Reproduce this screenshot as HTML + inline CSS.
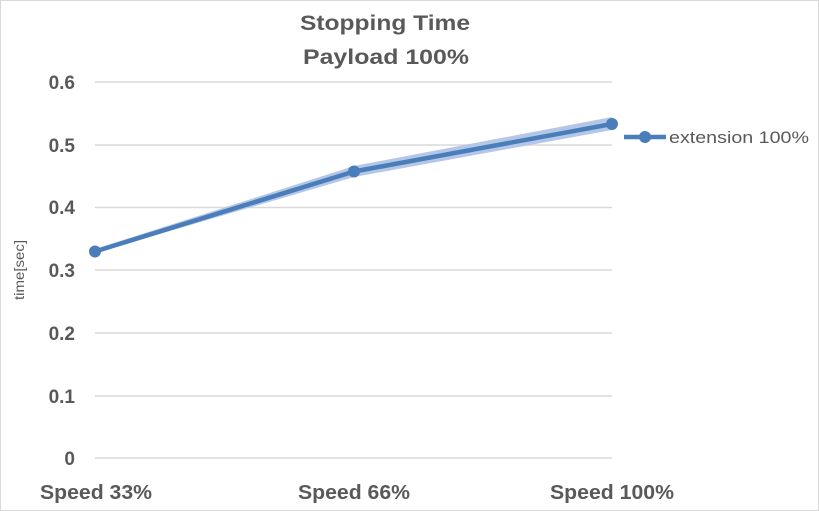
<!DOCTYPE html>
<html><head><style>
html,body{margin:0;padding:0;background:#fff}
svg{display:block}
text{font-family:"Liberation Sans",sans-serif}
</style></head><body>
<svg width="819" height="511" xmlns="http://www.w3.org/2000/svg">
<rect x="0.5" y="0.5" width="818" height="510" fill="#fff" stroke="#d9d9d9"/>
<text x="385" y="30" text-anchor="middle" font-size="21" font-weight="bold" fill="#595959" textLength="170" lengthAdjust="spacingAndGlyphs">Stopping Time</text>
<text x="386" y="64" text-anchor="middle" font-size="21" font-weight="bold" fill="#595959" textLength="166" lengthAdjust="spacingAndGlyphs">Payload 100%</text>
<g stroke="#d9d9d9" stroke-width="1.5">
<line x1="95" y1="82" x2="612" y2="82"/>
<line x1="95" y1="145" x2="612" y2="145"/>
<line x1="95" y1="207.5" x2="612" y2="207.5"/>
<line x1="95" y1="270" x2="612" y2="270"/>
<line x1="95" y1="333" x2="612" y2="333"/>
<line x1="95" y1="396" x2="612" y2="396"/>
<line x1="95" y1="458" x2="612" y2="458"/>
</g>
<g font-size="19" font-weight="bold" fill="#595959" text-anchor="end">
<text x="75" y="89">0.6</text>
<text x="75" y="152">0.5</text>
<text x="75" y="214">0.4</text>
<text x="75" y="277">0.3</text>
<text x="75" y="340">0.2</text>
<text x="75" y="403">0.1</text>
<text x="75" y="465">0</text>
</g>
<text transform="translate(24,270) rotate(-90)" text-anchor="middle" font-size="14" fill="#595959" textLength="60" lengthAdjust="spacingAndGlyphs">time[sec]</text>
<g font-size="20" font-weight="bold" fill="#595959" text-anchor="middle">
<text x="96" y="499" textLength="112" lengthAdjust="spacingAndGlyphs">Speed 33%</text>
<text x="354" y="499" textLength="112" lengthAdjust="spacingAndGlyphs">Speed 66%</text>
<text x="612" y="499" textLength="124" lengthAdjust="spacingAndGlyphs">Speed 100%</text>
</g>
<polygon points="95,249 354,166 612,117 612,130 354,177 95,253" fill="#b4c7e7"/>
<polyline points="95,251.5 354,171.5 612,124" fill="none" stroke="#4a7ebb" stroke-width="4.5" stroke-linejoin="round"/>
<g fill="#4a7ebb">
<circle cx="95" cy="251.5" r="6"/>
<circle cx="354" cy="171.5" r="6"/>
<circle cx="612" cy="124" r="6"/>
<line x1="624" y1="137" x2="666" y2="137" stroke="#4a7ebb" stroke-width="4.5"/>
<circle cx="645" cy="137" r="6"/>
</g>
<text x="669" y="143" font-size="17" fill="#595959" textLength="140" lengthAdjust="spacingAndGlyphs">extension 100%</text>
</svg>
</body></html>
